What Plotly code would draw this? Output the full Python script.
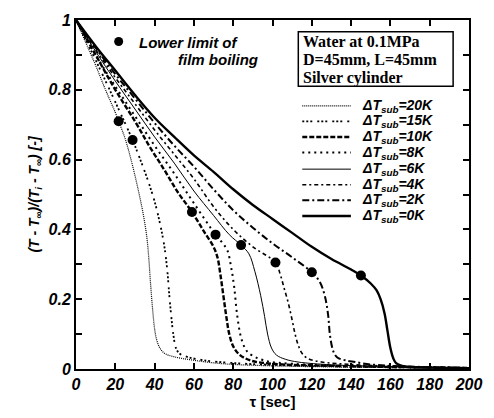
import plotly.graph_objects as go

# ---------------- data ----------------
t_20K = [0, 5, 10, 15, 20, 21.7, 25, 28, 31, 34, 36, 37, 38, 39, 40, 41, 42.5, 45, 50, 60, 75, 100, 130, 160, 200]
v_20K = [1, 0.935, 0.87, 0.8, 0.735, 0.71, 0.66, 0.60, 0.53, 0.45, 0.38, 0.32, 0.24, 0.17, 0.115, 0.085, 0.062, 0.045, 0.035, 0.025, 0.015, 0.009, 0.006, 0.004, 0.002]

t_15K = [0, 10, 20, 28.8, 32.3, 36, 40, 43, 45, 46.5, 47.5, 48.5, 49.5, 51, 53, 57, 65, 80, 100, 130, 160, 200]
v_15K = [1, 0.885, 0.765, 0.656, 0.606, 0.55, 0.48, 0.41, 0.35, 0.28, 0.21, 0.15, 0.10, 0.058, 0.043, 0.034, 0.025, 0.017, 0.012, 0.008, 0.005, 0.003]

t_10K = [0, 10, 20, 30, 37.4, 45, 52, 59, 65, 70, 72, 73.5, 75, 76.5, 78, 80, 83, 89, 100, 130, 200]
v_10K = [1, 0.9, 0.8, 0.71, 0.638, 0.57, 0.505, 0.45, 0.395, 0.35, 0.32, 0.27, 0.21, 0.15, 0.10, 0.065, 0.042, 0.024, 0.015, 0.009, 0.003]

t_8K = [0, 10, 20, 30, 40, 50, 60, 71, 74, 77, 79, 80.5, 82, 84, 86, 88, 96, 110, 140, 200]
v_8K = [1, 0.9, 0.81, 0.725, 0.64, 0.56, 0.475, 0.385, 0.365, 0.34, 0.29, 0.235, 0.155, 0.09, 0.06, 0.045, 0.024, 0.015, 0.009, 0.003]

t_6K = [0, 10, 20, 30, 40, 50, 60, 70, 78, 84, 88, 91, 94, 96, 97.5, 99.5, 102, 106.5, 113, 130, 160, 200]
v_6K = [1, 0.91, 0.825, 0.745, 0.665, 0.59, 0.51, 0.44, 0.385, 0.355, 0.33, 0.28, 0.21, 0.15, 0.10, 0.06, 0.04, 0.028, 0.02, 0.012, 0.007, 0.003]

t_4K = [0, 10, 20, 30, 40, 50, 60, 70, 80, 90, 101.5, 104, 106, 108, 110, 111.5, 113, 115, 118, 125, 140, 160, 200]
v_4K = [1, 0.915, 0.835, 0.76, 0.685, 0.615, 0.545, 0.465, 0.4, 0.35, 0.305, 0.27, 0.23, 0.19, 0.14, 0.10, 0.07, 0.045, 0.03, 0.02, 0.013, 0.008, 0.003]

t_2K = [0, 10, 20, 30, 40, 50, 60, 70, 80, 90, 100, 110, 120, 124, 126.6, 128.3, 129.3, 131, 133, 137, 142, 150, 170, 200]
v_2K = [1, 0.92, 0.845, 0.775, 0.705, 0.64, 0.58, 0.515, 0.455, 0.405, 0.36, 0.32, 0.277, 0.25, 0.21, 0.155, 0.095, 0.05, 0.033, 0.025, 0.02, 0.013, 0.007, 0.003]

t_0K = [0, 10, 20, 30, 40, 50, 60, 70, 80, 90, 100, 110, 120, 130, 140, 145, 150, 153, 155, 157, 158.5, 160, 161.5, 163, 166, 170, 180, 190, 200]
v_0K = [1, 0.925, 0.855, 0.785, 0.72, 0.665, 0.612, 0.565, 0.515, 0.47, 0.43, 0.39, 0.35, 0.315, 0.285, 0.268, 0.245, 0.225, 0.2, 0.16, 0.11, 0.06, 0.03, 0.016, 0.009, 0.006, 0.004, 0.003, 0.002]

# lower limit of film boiling (one point per curve)
dot_t = [21.7, 28.8, 59, 71, 84, 101.5, 120, 145]
dot_v = [0.71, 0.656, 0.45, 0.385, 0.355, 0.305, 0.277, 0.268]

series_labels = ["20K", "15K", "10K", "8K", "6K", "4K", "2K", "0K"]
box_lines = ["Water at 0.1MPa", "D=45mm, L=45mm", "Silver cylinder"]

# ---------------- styling ----------------
W, H = 494, 418
ML, MR, MT, MB = 76, 22, 12, 48
PW, PH = W - ML - MR, H - MT - MB

def px(xp):
    return (xp - ML) / PW

def py(yp):
    return (H - MB - yp) / PH

styles = [
    dict(dash="1px,1px", width=1.2),
    dict(dash="2px,2px,2px,2px,2px,5px", width=1.8),
    dict(dash="5px,2px", width=2.4),
    dict(dash="2px,4px", width=2.0),
    dict(dash="solid", width=1.0),
    dict(dash="4px,3px,2px,3px", width=1.6),
    dict(dash="7px,3px,2px,3px", width=2.0),
    dict(dash="solid", width=2.4),
]

ts = [t_20K, t_15K, t_10K, t_8K, t_6K, t_4K, t_2K, t_0K]
vs = [v_20K, v_15K, v_10K, v_8K, v_6K, v_4K, v_2K, v_0K]

fig = go.Figure()
for t, v, lab, st in zip(ts, vs, series_labels, styles):
    fig.add_trace(go.Scatter(
        x=t, y=v, mode="lines", name=lab, line_shape="spline",
        line=dict(color="black", width=st["width"], dash=st["dash"]),
        showlegend=False, hoverinfo="skip"))

fig.add_trace(go.Scatter(
    x=dot_t, y=dot_v, mode="markers", showlegend=False,
    marker=dict(color="black", size=10)))

SANS = "Liberation Sans, Arial, sans-serif"
SERIF = "Liberation Serif, Times New Roman, serif"

shapes = []
annotations = []

# legend-like entries (manual)
row_y = [100, 116, 132, 148, 165, 181, 197, 213]
for lab, st, ry in zip(series_labels, styles, row_y):
    shapes.append(dict(type="line", xref="paper", yref="paper",
                       x0=px(304), x1=px(353), y0=py(ry), y1=py(ry),
                       line=dict(color="black", width=st["width"], dash=st["dash"])))
    annotations.append(dict(xref="paper", yref="paper", x=px(362), y=py(ry),
                            xanchor="left", yanchor="middle", showarrow=False,
                            text="ΔT<sub>sub</sub>=" + lab,
                            font=dict(family=SANS, size=14, color="black",
                                      weight="bold", style="italic")))

# info box
shapes.append(dict(type="rect", xref="paper", yref="paper",
                   x0=px(300), x1=px(456), y0=py(80), y1=py(24),
                   line=dict(color="black", width=1.5), fillcolor="white"))
for txt, yy in zip(box_lines, [34, 52.5, 71]):
    annotations.append(dict(xref="paper", yref="paper", x=px(303), y=py(yy),
                            xanchor="left", yanchor="middle", showarrow=False,
                            text=txt,
                            font=dict(family=SERIF, size=16, color="black", weight="bold")))

# lower limit marker key
shapes.append(dict(type="circle", xref="paper", yref="paper",
                   xsizemode="pixel", ysizemode="pixel",
                   xanchor=px(119), yanchor=py(34),
                   x0=-4.5, x1=4.5, y0=-4.5, y1=4.5,
                   fillcolor="black", line=dict(color="black", width=0)))
annotations.append(dict(xref="paper", yref="paper", x=px(137), y=py(35),
                        xanchor="left", yanchor="middle", showarrow=False,
                        text="Lower limit of",
                        font=dict(family=SANS, size=15, color="black",
                                  weight="bold", style="italic")))
annotations.append(dict(xref="paper", yref="paper", x=px(261), y=py(53),
                        xanchor="right", yanchor="middle", showarrow=False,
                        text="film boiling",
                        font=dict(family=SANS, size=15, color="black",
                                  weight="bold", style="italic")))

tickfont = dict(family=SANS, size=16, color="black", weight="bold", style="italic")

fig.update_layout(
    width=W, height=H,
    margin=dict(l=ML, r=MR, t=MT, b=MB, pad=0),
    paper_bgcolor="white", plot_bgcolor="white",
    shapes=shapes, annotations=annotations,
    xaxis=dict(range=[0, 200], dtick=20, ticks="inside", ticklen=6,
               tickwidth=1.5, tickcolor="black", showline=True, linewidth=2,
               linecolor="black", mirror="ticks", showgrid=False, zeroline=False,
               tickfont=tickfont,
               title=dict(text="τ [sec]", standoff=2,
                          font=dict(family=SANS, size=15, color="black", weight="bold"))),
    yaxis=dict(range=[0, 1], dtick=0.2, ticks="inside",
               ticklen=6, tickwidth=1.5, tickcolor="black", showline=True,
               linewidth=2, linecolor="black", mirror="ticks", showgrid=False,
               zeroline=False, tickfont=tickfont,
               minor=dict(dtick=0.1, ticks="inside", ticklen=6, tickwidth=1.5,
                          tickcolor="black", showgrid=False),
               title=dict(text="(T - T<sub>∞</sub>)/(T<sub>i</sub> - T<sub>∞</sub>) [-]",
                          standoff=6,
                          font=dict(family=SANS, size=14, color="black",
                                    weight="bold", style="italic"))),
)

fig.write_html("out.html")
